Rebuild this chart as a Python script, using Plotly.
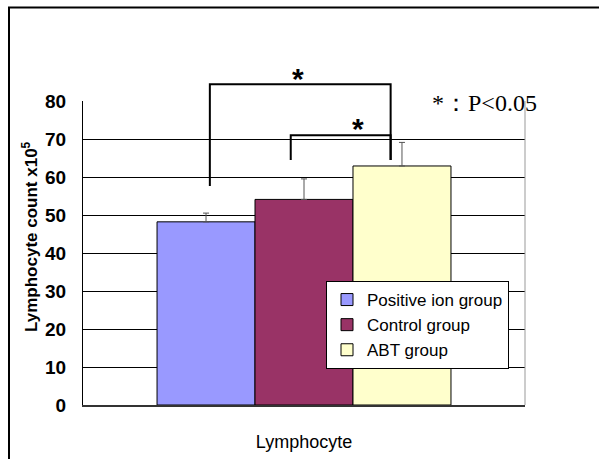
import plotly.graph_objects as go

# ---- data ----
category = ["Lymphocyte"]
groups = ["Positive ion group", "Control group", "ABT group"]
means = [48.2, 54.1, 62.9]
errors = [2.3, 5.4, 6.2]
colors = ["#9999FF", "#993366", "#FFFFCC"]
y_ticks = [0, 10, 20, 30, 40, 50, 60, 70, 80]
YMAX = 80

# significance brackets: (x_left, x_right, top, left_bottom, right_bottom) in data units
brackets = [(-0.213, 0.196, 84.4, 57.6, 64.5), (-0.030, 0.196, 71.0, 64.5, 64.5)]
stars = [(-0.014, 87.1), (0.122, 73.7)]

W, H = 599, 459
L, R, T, B = 83, 525, 101, 405


def px_x(px):
    return (px - L) / (R - L)


def px_y(py):
    return (B - py) / (B - T)


SANS = "Liberation Sans, Arial"
fig = go.Figure()
for g, m, e, c in zip(groups, means, errors, colors):
    fig.add_trace(go.Bar(
        x=category, y=[m], name=g,
        marker=dict(color=c, line=dict(color="black", width=1)),
        error_y=dict(type="data", array=[e], arrayminus=[0], symmetric=False,
                     color="#555555", thickness=1, width=3),
    ))

shapes = []
for xl, xr, top, lb, rb in brackets:
    path = (f"M{xl},{lb / YMAX} L{xl},{top / YMAX} L{xr},{top / YMAX} L{xr},{rb / YMAX}")
    shapes.append(dict(type="path", xref="x", yref="paper", path=path,
                       line=dict(color="black", width=2)))
# right gray border of plot area
shapes.append(dict(type="line", xref="paper", yref="paper", x0=1, x1=1, y0=0, y1=1,
                   line=dict(color="#999999", width=1)))
# outer frame
shapes.append(dict(type="rect", xref="paper", yref="paper",
                   x0=px_x(9), x1=px_x(640), y0=px_y(7.5), y1=px_y(500),
                   line=dict(color="black", width=2), layer="above"))

annotations = []
for sx, sy in stars:
    annotations.append(dict(x=sx, y=sy / YMAX, xref="x", yref="paper", text="<b>*</b>",
                            showarrow=False, font=dict(family=SANS, size=30, color="black"),
                            xanchor="center", yanchor="middle", yshift=-4))
annotations.append(dict(x=px_x(430), y=px_y(103), xref="paper", yref="paper",
                        text="*：P<0.05", showarrow=False, xanchor="left", yanchor="middle",
                        font=dict(family="Liberation Serif, Times New Roman", size=24, color="black")))
annotations.append(dict(x=px_x(30), y=px_y(237), xref="paper", yref="paper",
                        text="<b>Lymphocyte count x10<sup>5</sup></b>", textangle=-90, showarrow=False,
                        xanchor="center", yanchor="middle",
                        font=dict(family=SANS, size=17, color="black")))
annotations.append(dict(x=px_x(28), y=px_y(-16), xref="paper", yref="paper",
                        text="<b>Lymphocyte levels isolated from the spleen</b>", showarrow=False,
                        xanchor="left", yanchor="middle",
                        font=dict(family="Liberation Serif, Times New Roman", size=21, color="black")))

fig.update_layout(
    width=W, height=H,
    margin=dict(l=L, r=W - R, t=T, b=H - B),
    paper_bgcolor="white", plot_bgcolor="white",
    barmode="group", bargap=0.335, bargroupgap=0,
    showlegend=True,
    legend=dict(x=px_x(326), y=px_y(281), xanchor="left", yanchor="top",
                bgcolor="white", bordercolor="black", borderwidth=1,
                font=dict(family=SANS, size=17, color="black"),
                tracegroupgap=0, itemwidth=30),
    shapes=shapes, annotations=annotations,
    xaxis=dict(range=[-0.5, 0.5], showgrid=False, showline=True, linecolor="#333333",
               linewidth=2, ticks="", tickfont=dict(family=SANS, size=18, color="black"),
               ticklabelstandoff=19, fixedrange=True, automargin=False),
    yaxis=dict(range=[0, YMAX], tickvals=y_ticks, showgrid=True, gridcolor="black",
               gridwidth=1, showline=True, linecolor="black", linewidth=1, ticks="",
               zeroline=False, ticklabelstandoff=12, fixedrange=True, automargin=False,
               tickfont=dict(family=SANS, size=19, color="black", weight="bold")),
)

fig.write_html("out.html", config={"displayModeBar": False},
               post_script="document.body.style.margin='0';")
